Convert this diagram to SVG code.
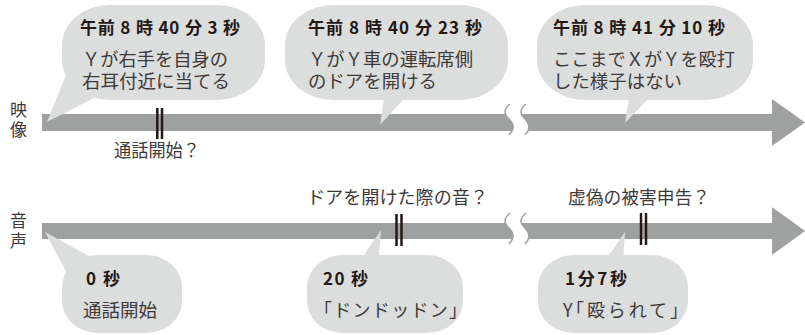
<svg xmlns="http://www.w3.org/2000/svg" width="805" height="335" viewBox="0 0 805 335">
<style>
.bar{fill:#9fa0a0}
.bub{fill:#dcdddd}
.brk{fill:#ffffff}
.brks{fill:none;stroke:#9fa0a0;stroke-width:1.5}
.tick{stroke:#231815;stroke-width:2.5}
.t{font-family:"Noto Sans CJK JP","Noto Sans",sans-serif;font-size:18px;fill:#3e3a39}
.b{font-family:"Noto Sans CJK JP","Noto Sans",sans-serif;font-size:17px;font-weight:bold;fill:#231815}
.lab{font-family:"Noto Sans CJK JP","Noto Sans",sans-serif;font-size:17px;fill:#3e3a39;text-anchor:middle}
</style>
<rect width="805" height="335" fill="#ffffff"/>
<g id="connectors">
  <g id="timeline-video">
    <rect class="bar" x="42" y="114" width="731" height="17"/>
    <polygon class="bar" points="772,99 805,122.5 772,146"/>
    <path class="brk" d="M510,104 C503,110 504,114 509,119 C514,124 515,129 509,135 L525,135 C531,129 530,124 525,119 C520,114 519,110 526,104 Z"/>
    <path class="brks" d="M510,104 C503,110 504,114 509,119 C514,124 515,129 509,135"/>
    <path class="brks" d="M526,104 C519,110 520,114 525,119 C530,124 531,129 525,135"/>
  </g>
  <g id="timeline-audio">
    <rect class="bar" x="42" y="223" width="731" height="16"/>
    <polygon class="bar" points="772,207 805,231 772,255"/>
    <path class="brk" d="M510,213 C503,219 504,223 509,228 C514,233 515,238 509,244 L525,244 C531,238 530,233 525,228 C520,223 519,219 526,213 Z"/>
    <path class="brks" d="M510,213 C503,219 504,223 509,228 C514,233 515,238 509,244"/>
    <path class="brks" d="M526,213 C519,219 520,223 525,228 C530,233 531,238 525,244"/>
  </g>
</g>
<g id="axis-labels">
  <text class="lab" x="18.5" y="116">映</text>
  <text class="lab" x="18.5" y="136">像</text>
  <text class="lab" x="18.5" y="227">音</text>
  <text class="lab" x="18.5" y="247">声</text>
</g>
<g id="mark-call-start">
  <line class="tick" x1="157.3" y1="108" x2="157.3" y2="139"/>
  <line class="tick" x1="162" y1="108" x2="162" y2="139"/>
  <text class="t" x="114" y="157" textLength="86" lengthAdjust="spacingAndGlyphs">通話開始？</text>
</g>
<g id="mark-door-sound">
  <line class="tick" x1="396.5" y1="214" x2="396.5" y2="246"/>
  <line class="tick" x1="401.5" y1="214" x2="401.5" y2="246"/>
  <text class="t" x="307" y="204" textLength="181" lengthAdjust="spacingAndGlyphs">ドアを開けた際の音？</text>
</g>
<g id="mark-false-report">
  <line class="tick" x1="641" y1="213" x2="641" y2="245"/>
  <line class="tick" x1="646" y1="213" x2="646" y2="245"/>
  <text class="t" x="568" y="204" textLength="142" lengthAdjust="spacingAndGlyphs">虚偽の被害申告？</text>
</g>
<g id="bubble-v1">
  <polygon class="bub" points="47,122 66,75 100,95"/>
  <rect class="bub" x="62" y="5" width="203" height="95" rx="48" ry="40"/>
  <text class="b" x="80" y="34" textLength="160" lengthAdjust="spacing">午前 8 時 40 分 3 秒</text>
  <text class="t" x="82" y="66" textLength="146" lengthAdjust="spacingAndGlyphs">Ｙが右手を自身の</text>
  <text class="t" x="82" y="88" textLength="148" lengthAdjust="spacingAndGlyphs">右耳付近に当てる</text>
</g>
<g id="bubble-v2">
  <polygon class="bub" points="380,125 385,92 410,92"/>
  <rect class="bub" x="285" y="5" width="223" height="95" rx="48" ry="40"/>
  <text class="b" x="308" y="34" textLength="174" lengthAdjust="spacing">午前 8 時 40 分 23 秒</text>
  <text class="t" x="308" y="66" textLength="165" lengthAdjust="spacingAndGlyphs">ＹがＹ車の運転席側</text>
  <text class="t" x="308" y="88" textLength="129" lengthAdjust="spacingAndGlyphs">のドアを開ける</text>
</g>
<g id="bubble-v3">
  <polygon class="bub" points="625,123 630,92 655,92"/>
  <rect class="bub" x="537" y="5" width="216" height="95" rx="48" ry="40"/>
  <text class="b" x="553" y="34" textLength="172" lengthAdjust="spacing">午前 8 時 41 分 10 秒</text>
  <text class="t" x="553" y="66" textLength="182" lengthAdjust="spacingAndGlyphs">ここまでＸがＹを殴打</text>
  <text class="t" x="553" y="88" textLength="129" lengthAdjust="spacingAndGlyphs">した様子はない</text>
</g>
<g id="bubble-a1">
  <polygon class="bub" points="45,232 68,275 100,262"/>
  <rect class="bub" x="62" y="255" width="120" height="78" rx="36" ry="32"/>
  <text class="b" x="86" y="285" textLength="34" lengthAdjust="spacing">0 秒</text>
  <text class="t" x="83" y="317" textLength="74" lengthAdjust="spacingAndGlyphs">通話開始</text>
</g>
<g id="bubble-a2">
  <polygon class="bub" points="381,230 358,264 378,264"/>
  <rect class="bub" x="307" y="255" width="156" height="78" rx="36" ry="32"/>
  <text class="b" x="323" y="285" textLength="45" lengthAdjust="spacing">20 秒</text>
  <text class="t" x="314" y="317" textLength="153" lengthAdjust="spacing">「ドンドッドン」</text>
</g>
<g id="bubble-a3">
  <polygon class="bub" points="625,232 603,264 623,264"/>
  <rect class="bub" x="538" y="255" width="150" height="78" rx="36" ry="32"/>
  <text class="b" x="565" y="285" textLength="62" lengthAdjust="spacing">1 分 7 秒</text>
  <text class="t" y="317"><tspan x="563">Y</tspan><tspan x="566" textLength="122" lengthAdjust="spacing">「殴られて」</tspan></text>
</g>
</svg>
